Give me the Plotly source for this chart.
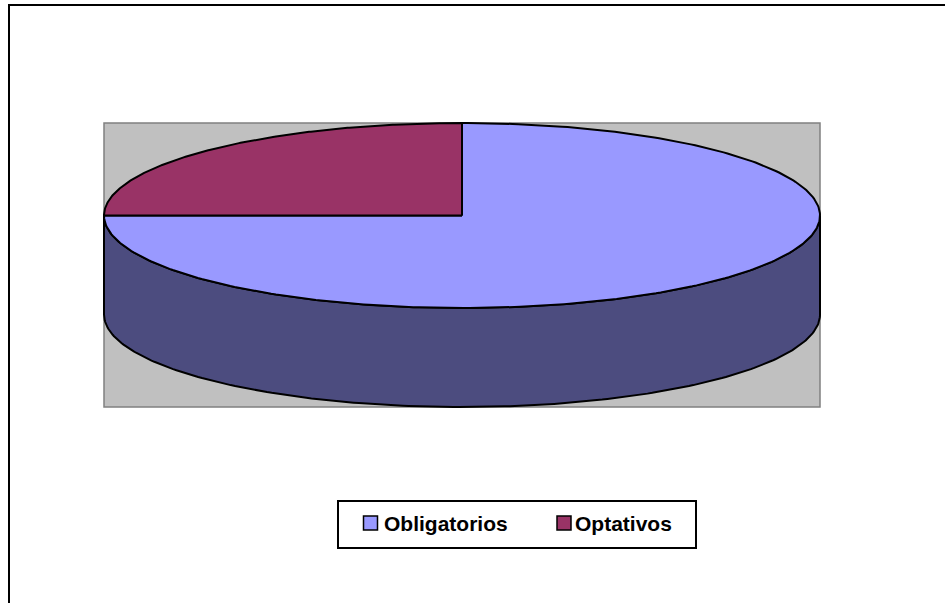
import numpy as np
import plotly.graph_objects as go

# ---- data ----
categories = ["Obligatorios", "Optativos"]
values = [75, 25]
top_colors = ["#9999FF", "#993366"]
side_colors = ["#4C4C7F", "#4C1A33"]

# ---- layout constants (pixel space) ----
W, H = 945, 603
cx, cy = 462, 215.5     # centre of top ellipse
rx, ry = 358, 92.5      # radii of top ellipse
depth = 99              # thickness of the pie
plot_box = (104, 123, 820, 407)

def pt(theta_deg, dy=0.0):
    t = np.radians(theta_deg)
    return cx + rx * np.sin(t), cy - ry * np.cos(t) + dy

fig = go.Figure()

# slice angle ranges (clockwise from 12 o'clock)
total = float(sum(values))
starts, ends = [], []
acc = 0.0
for v in values:
    starts.append(acc / total * 360.0)
    acc += v
    ends.append(acc / total * 360.0)

# side walls (visible front half: 90..270 deg)
for i, cat in enumerate(categories):
    a0 = max(starts[i], 90.0)
    a1 = min(ends[i], 270.0)
    if a1 <= a0:
        continue
    th = np.linspace(a0, a1, 200)
    xt, yt = pt(th)
    xb, yb = pt(th[::-1], depth)
    xs = np.concatenate([xt, xb, xt[:1]])
    ys = np.concatenate([yt, yb, yt[:1]])
    fig.add_trace(go.Scatter(x=xs, y=ys, mode="lines", fill="toself",
                             fillcolor=side_colors[i],
                             line=dict(color="black", width=2),
                             hoverinfo="skip", showlegend=False))

# top faces
for i, cat in enumerate(categories):
    th = np.linspace(starts[i], ends[i], 300)
    xe, ye = pt(th)
    xs = np.concatenate([[cx], xe, [cx]])
    ys = np.concatenate([[cy], ye, [cy]])
    fig.add_trace(go.Scatter(x=xs, y=ys, mode="lines", fill="toself",
                             fillcolor=top_colors[i],
                             line=dict(color="black", width=2),
                             hoverinfo="skip", showlegend=False, name=cat))

shapes = [
    # outer chart border (only left and top edges are inside the picture)
    dict(type="path", xref="x", yref="y", path=f"M 9,{H + 50} L 9,5 L {W + 50},5",
         line=dict(color="black", width=2), layer="below"),
    # gray plot area
    dict(type="rect", xref="x", yref="y", x0=plot_box[0], y0=plot_box[1],
         x1=plot_box[2], y1=plot_box[3],
         line=dict(color="#808080", width=1.5), fillcolor="#C0C0C0", layer="below"),
    # legend box
    dict(type="rect", xref="x", yref="y", x0=338, y0=501, x1=696, y1=548,
         line=dict(color="black", width=2), fillcolor="white"),
]

annotations = []
leg_sq_x = [370.5, 564]
leg_txt_x = [382, 573]
for i, cat in enumerate(categories):
    shapes.append(dict(type="rect", xref="x", yref="y",
                       x0=leg_sq_x[i] - 7, y0=516, x1=leg_sq_x[i] + 7, y1=530,
                       line=dict(color="black", width=1.5), fillcolor=top_colors[i]))
    annotations.append(dict(x=leg_txt_x[i], y=523.5, xref="x", yref="y",
                            text=cat, showarrow=False, xanchor="left", yanchor="middle",
                            font=dict(family="Liberation Sans, Arial", size=21,
                                      color="black", weight="bold")))

fig.update_layout(
    width=W, height=H, autosize=False,
    margin=dict(l=0, r=0, t=0, b=0),
    paper_bgcolor="white", plot_bgcolor="white",
    xaxis=dict(range=[0, W], visible=False, fixedrange=True),
    yaxis=dict(range=[H, 0], visible=False, fixedrange=True),
    shapes=shapes, annotations=annotations, showlegend=False,
)

fig.write_html("out.html")
